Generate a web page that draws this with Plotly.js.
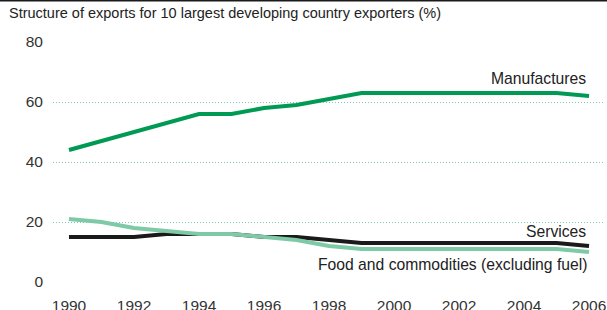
<!DOCTYPE html>
<html>
<head>
<meta charset="utf-8">
<script src="https://cdn.plot.ly/plotly-3.0.1.min.js"></script>
<style>
html,body{margin:0;padding:0;background:#fff;}
#chart{width:607px;height:310px;}
</style>
</head>
<body>
<div id="chart"></div>
<script>
var years = [1990,1991,1992,1993,1994,1995,1996,1997,1998,1999,2000,2001,2002,2003,2004,2005,2006];
var manufactures = [44,47,50,53,56,56,58,59,61,63,63,63,63,63,63,63,62];
var services = [15,15,15,16,16,16,15,15,14,13,13,13,13,13,13,13,12];
var food = [21,20,18,17,16,16,15,14,12,11,11,11,11,11,11,11,10];
var seriesNames = ["Manufactures","Services","Food and commodities (excluding fuel)"];
var yTicks = [0,20,40,60,80];
var xTicks = [1990,1992,1994,1996,1998,2000,2002,2004,2006];
var titleText = "Structure of exports for 10 largest developing country exporters (%)";

var FONT = "Liberation Sans, Arial, sans-serif";
var traces = [
  {x: years, y: services, name: seriesNames[1], mode: "lines", line: {color: "#1a1a1a", width: 4}, cliponaxis: false},
  {x: years, y: food, name: seriesNames[2], mode: "lines", line: {color: "#7fcaa6", width: 4}, cliponaxis: false},
  {x: years, y: manufactures, name: seriesNames[0], mode: "lines", line: {color: "#009a55", width: 4}, cliponaxis: false}
];

var lastIdx = years.length - 1;
var annFont = {family: FONT, size: 15.7, color: "#222"};
var annotations = [
  {x: years[lastIdx], y: manufactures[lastIdx], text: seriesNames[0], xanchor: "right", yanchor: "middle", yshift: 18, xshift: -1, showarrow: false, font: annFont},
  {x: years[lastIdx], y: services[lastIdx], text: seriesNames[1], xanchor: "right", yanchor: "middle", yshift: 15, xshift: -1, showarrow: false, font: annFont},
  {x: years[lastIdx], y: food[lastIdx], text: seriesNames[2], xanchor: "right", yanchor: "middle", yshift: -12, xshift: 0, showarrow: false, font: annFont}
];

var layout = {
  width: 607, height: 310,
  margin: {l: 53, r: 4, t: 41, b: 27},
  paper_bgcolor: "#fff", plot_bgcolor: "#fff",
  showlegend: false,
  title: {text: titleText, x: 0, xref: "container", xanchor: "left", y: 1, yref: "container", yanchor: "top", pad: {t: 8, l: 9}, font: {family: FONT, size: 14.5, color: "#222"}},
  xaxis: {
    range: [1989.508, 2006.43], tickvals: xTicks, ticktext: xTicks.map(String),
    showgrid: false, zeroline: false, showline: false, ticks: "",
    tickfont: {family: FONT, size: 15.5, color: "#333"}, ticklabelstandoff: 11
  },
  yaxis: {
    range: [-1/3, 80 + 1/3], tickvals: yTicks, ticktext: yTicks.map(String),
    showgrid: true, gridcolor: "#7fc7b8", griddash: "1px,2px", gridwidth: 1,
    zeroline: false, showline: false, ticks: "",
    tickfont: {family: FONT, size: 15.5, color: "#333"}, ticklabelstandoff: 9
  },
  annotations: annotations,
  shapes: [{type: "line", xref: "paper", yref: "paper", x0: -0.2, x1: 1.1, y0: 1 + 40.5/242, y1: 1 + 40.5/242, line: {color: "#1a1a1a", width: 2}}]
};

Plotly.newPlot("chart", traces, layout, {displayModeBar: false, staticPlot: true});
</script>
</body>
</html>
